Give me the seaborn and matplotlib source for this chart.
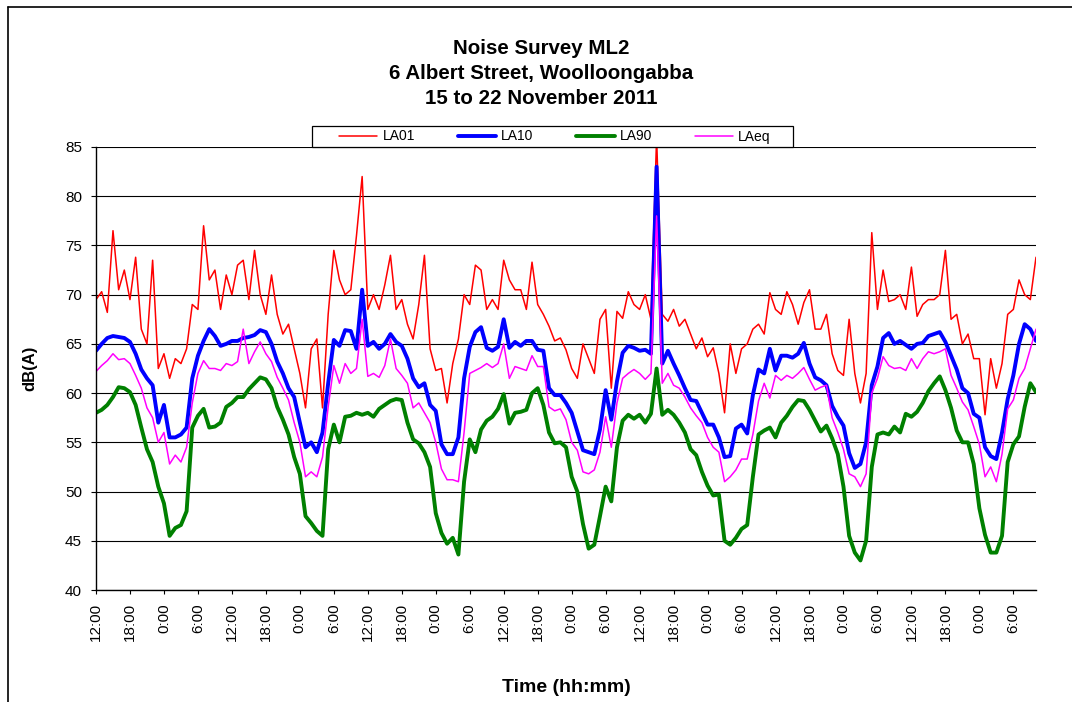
import pandas as pd
import matplotlib
matplotlib.use("Agg")
import matplotlib.pyplot as plt
import seaborn as sns
from matplotlib.lines import Line2D
from matplotlib.patches import Rectangle

# hourly readings, 12:00 15 Nov 2011 onwards
start = "2011-11-15 12:00"

la01 = [69.5, 70.3, 68.2, 76.5, 70.5, 72.5, 69.5, 73.8, 66.5, 65.0, 73.5, 62.5, 64.0, 61.5,
        63.5, 63.0, 64.5, 69.0, 68.5, 77.0, 71.5, 72.5, 68.5, 72.0, 70.0, 73.0, 73.5, 69.5,
        74.5, 70.0, 68.0, 72.0, 68.0, 66.0, 67.0, 64.5, 62.0, 58.5, 64.5, 65.5, 58.5, 68.0,
        74.5, 71.5, 70.0, 70.5, 76.0, 82.0, 68.5, 70.0, 68.5, 71.0, 74.0, 68.5, 69.5, 67.0, 65.5,
        69.0, 74.0, 64.5, 62.3, 62.5, 59.0, 63.0, 65.5, 70.0, 69.0, 73.0, 72.5, 68.5, 69.5,
        68.5, 73.5, 71.5, 70.5, 70.5, 68.5, 73.3, 69.0, 68.0, 66.8, 65.3, 65.6, 64.4, 62.5,
        61.5, 65.0, 63.5, 62.0, 67.5, 68.5, 60.5, 68.3, 67.6, 70.3, 69.0, 68.5, 70.0, 67.5,
        86.0, 68.0, 67.3, 68.5, 66.8, 67.5, 66.0, 64.5, 65.6, 63.7, 64.6, 62.0, 58.0, 65.0,
        62.0, 64.5, 65.0, 66.5, 67.0, 66.0, 70.2, 68.5, 68.0, 70.3, 69.0, 67.0, 69.2, 70.5,
        66.5, 66.5, 68.0, 64.0, 62.3, 61.8, 67.5, 62.0, 59.0, 62.0, 76.3, 68.5, 72.5, 69.3, 69.5,
        70.0, 68.5, 72.8, 67.8, 69.0, 69.5, 69.5, 70.0, 74.5, 67.5, 68.0, 65.0, 66.0, 63.5,
        63.5, 57.8, 63.5, 60.5, 63.0, 68.0, 68.5, 71.5, 70.0, 69.5, 73.8]

la10 = [64.3, 65.0, 65.6, 65.8, 65.7, 65.6, 65.2, 64.0, 62.4, 61.5, 60.8, 57.0, 58.8, 55.5,
        55.5, 55.8, 56.5, 61.5, 63.8, 65.3, 66.5, 65.8, 64.8, 65.0, 65.3, 65.3, 65.6, 65.7,
        65.9, 66.4, 66.2, 65.0, 63.2, 62.0, 60.5, 59.6, 57.0, 54.5, 55.0, 54.0, 56.0, 61.0,
        65.4, 64.8, 66.4, 66.3, 64.5, 70.5, 64.8, 65.2, 64.5, 65.0, 66.0, 65.2, 64.8, 63.5, 61.5,
        60.6, 61.0, 58.8, 58.2, 54.8, 53.8, 53.8, 55.5, 61.5, 64.7, 66.2, 66.7, 64.6, 64.3,
        64.7, 67.5, 64.6, 65.2, 64.8, 65.3, 65.3, 64.4, 64.3, 60.5, 59.8, 59.8, 59.0, 58.0,
        56.1, 54.2, 54.0, 53.8, 56.3, 60.3, 57.3, 61.2, 64.1, 64.8, 64.6, 64.3, 64.4, 64.0,
        83.0, 63.0, 64.3, 63.0, 61.8, 60.5, 59.3, 59.2, 58.0, 56.8, 56.8, 55.5, 53.5, 53.6,
        56.4, 56.8, 55.9, 59.8, 62.4, 62.0, 64.5, 62.3, 63.8, 63.8, 63.6, 64.0, 65.1, 63.0,
        61.6, 61.3, 60.8, 58.7, 57.6, 56.7, 53.9, 52.4, 52.8, 55.0, 60.8, 62.7, 65.6, 66.1, 65.0,
        65.3, 64.9, 64.5, 65.0, 65.1, 65.8, 66.0, 66.2, 65.2, 63.8, 62.4, 60.5, 60.0, 57.9,
        57.5, 54.5, 53.6, 53.3, 56.0, 59.4, 61.8, 65.0, 67.0, 66.5, 65.3]

la90 = [58.0, 58.3, 58.8, 59.6, 60.6, 60.5, 60.1, 58.8, 56.5, 54.3, 53.0, 50.5, 48.8, 45.5,
        46.3, 46.6, 48.0, 56.5, 57.7, 58.4, 56.5, 56.6, 57.0, 58.6, 59.0, 59.6, 59.6, 60.4,
        61.0, 61.6, 61.4, 60.5, 58.6, 57.3, 55.8, 53.5, 51.8, 47.5, 46.8, 46.0, 45.5, 54.3,
        56.8, 55.0, 57.6, 57.7, 58.0, 57.8, 58.0, 57.6, 58.4, 58.8, 59.2, 59.4, 59.3, 57.0, 55.3,
        54.9, 54.0, 52.5, 47.8, 45.8, 44.7, 45.3, 43.6, 51.0, 55.3, 54.0, 56.3, 57.2, 57.6,
        58.4, 59.9, 56.9, 58.0, 58.1, 58.3, 60.0, 60.5, 58.8, 56.0, 54.9, 55.0, 54.5, 51.5,
        50.0, 46.7, 44.2, 44.6, 47.5, 50.5, 49.0, 54.5, 57.2, 57.8, 57.4, 57.8, 57.0, 57.9,
        62.5, 57.8, 58.3, 57.8, 57.0, 56.0, 54.3, 53.7, 52.0, 50.6, 49.6, 49.7, 45.0, 44.6,
        45.3, 46.2, 46.6, 51.5, 55.8, 56.2, 56.5, 55.5, 57.0, 57.7, 58.6, 59.3, 59.2, 58.3,
        57.2, 56.1, 56.7, 55.4, 53.8, 50.5, 45.5, 43.8, 43.0, 45.0, 52.5, 55.8, 56.0, 55.8, 56.6,
        56.0, 57.9, 57.6, 58.1, 59.0, 60.2, 61.0, 61.7, 60.3, 58.5, 56.2, 55.0, 55.0, 52.8,
        48.3, 45.6, 43.8, 43.8, 45.5, 53.0, 54.8, 55.6, 58.6, 61.0, 60.1]

laeq = [62.2, 62.8, 63.3, 64.0, 63.4, 63.5, 63.0, 61.8, 60.5, 58.5, 57.5, 55.0, 56.0, 52.8,
        53.7, 53.0, 54.5, 59.0, 62.0, 63.3, 62.5, 62.5, 62.3, 63.0, 62.8, 63.2, 66.5, 63.0,
        64.2, 65.2, 64.0, 63.2, 61.6, 60.5, 59.3, 57.0, 55.0, 51.5, 52.0, 51.5, 53.5, 58.6,
        62.8, 61.0, 63.0, 62.0, 62.5, 67.5, 61.7, 62.0, 61.6, 62.8, 65.5, 62.5, 61.8, 61.0, 58.5,
        59.0, 58.0, 57.0, 55.0, 52.3, 51.2, 51.2, 51.0, 56.0, 62.0, 62.3, 62.6, 63.0, 62.6,
        63.0, 65.0, 61.5, 62.7, 62.5, 62.3, 63.8, 62.7, 62.7, 58.6, 58.2, 58.4, 57.3, 55.0,
        54.2, 52.0, 51.8, 52.2, 54.0, 57.6, 54.5, 59.0, 61.5, 62.0, 62.4, 62.0, 61.4, 62.0,
        78.0, 61.0, 62.0, 60.8, 60.5, 59.6, 58.5, 57.7, 57.0, 55.5, 54.5, 54.0, 51.0, 51.5,
        52.2, 53.3, 53.3, 55.8, 59.2, 61.0, 59.5, 61.8, 61.3, 61.8, 61.5, 62.0, 62.6, 61.4,
        60.3, 60.6, 60.8, 57.5, 56.0, 54.3, 51.8, 51.5, 50.5, 51.8, 60.0, 61.5, 63.7, 62.8, 62.5,
        62.6, 62.3, 63.5, 62.5, 63.5, 64.2, 64.0, 64.2, 64.5, 61.8, 60.5, 59.1, 58.3, 56.6,
        54.8, 51.5, 52.5, 51.0, 53.8, 58.4, 59.3, 61.5, 62.5, 64.5, 66.5]

series_names = ["LA01", "LA10", "LA90", "LAeq"]
colours = ["#FF0000", "#0000FF", "#008000", "#FF00FF"]
widths = [1.1, 2.8, 2.8, 1.1]
tick_labels = ["12:00", "18:00", "0:00", "6:00"] * 7

times = pd.date_range(start, periods=len(la01), freq="h")
df = pd.DataFrame({"time": times, "LA01": la01, "LA10": la10, "LA90": la90, "LAeq": laeq})
long = df.melt(id_vars="time", var_name="series", value_name="dB")

sns.set_style("white")
plt.rcParams["font.family"] = ["Liberation Sans", "DejaVu Sans"]
plt.rcParams.update({"text.color": "black", "axes.labelcolor": "black",
                     "xtick.color": "black", "ytick.color": "black"})

W, H = 1072, 702
fig = plt.figure(figsize=(W / 100, H / 100), dpi=100)
ax = fig.add_axes([96 / W, 1 - 590 / H, 940 / W, 443 / H])

handles = []
for name, c, w in zip(series_names, colours, widths):
    sns.lineplot(data=long[long["series"] == name], x="time", y="dB",
                 color=c, linewidth=w, ax=ax, legend=False)
    handles.append(Line2D([], [], color=c, linewidth=w, label=name))

ax.set_ylim(40, 85)
ax.set_yticks(range(40, 86, 5))
ax.set_xlim(times[0], times[-1])
ax.set_xticks(pd.date_range(start, periods=len(tick_labels), freq="6h"))
ax.set_xticklabels(tick_labels, rotation=90)

ax.yaxis.grid(True, color="black", linewidth=0.8)
ax.xaxis.grid(False)
ax.set_axisbelow(True)
for side in ["top", "right"]:
    ax.spines[side].set_visible(False)
for side in ["left", "bottom"]:
    ax.spines[side].set_color("black")
    ax.spines[side].set_linewidth(1.0)

ax.tick_params(axis="y", direction="out", length=3.6, width=0.8, pad=6.5,
               labelsize=11, left=True, colors="black")
ax.tick_params(axis="x", direction="out", length=2.9, width=0.8, pad=6.5,
               labelsize=11, bottom=True, colors="black")

ax.set_ylabel("dB(A)", fontsize=12, fontweight="bold")
ax.yaxis.label.set_verticalalignment("center")
ax.yaxis.set_label_coords(-0.070, 0.5)
ax.set_xlabel("Time (hh:mm)", fontsize=14, fontweight="bold")
ax.xaxis.label.set_verticalalignment("center")
ax.xaxis.set_label_coords(0.5, -(688 - 590) / 443)

fig.text(541 / W, 1 - 73.5 / H, "Noise Survey ML2\n6 Albert Street, Woolloongabba\n15 to 22 November 2011",
         ha="center", va="center", multialignment="center", fontsize=14.8,
         fontweight="bold", linespacing=1.42)

# legend strip above the plot
fig.add_artist(Rectangle((312 / W, 1 - 147 / H), 481 / W, 21 / H, transform=fig.transFigure,
                         facecolor="white", edgecolor="black", linewidth=0.9, zorder=5))
leg = fig.legend(handles=handles, loc="center", bbox_to_anchor=(555 / W, 1 - 136.5 / H),
                 ncol=4, frameon=False, fontsize=10, handlelength=2.75, handletextpad=0.36,
                 columnspacing=3.1, borderpad=0)
leg.set_zorder(6)

# chart area border
fig.add_artist(Line2D([8 / W, 8 / W], [0, 1 - 7 / H], color="black", linewidth=1.2))
fig.add_artist(Line2D([8 / W, 1], [1 - 7 / H, 1 - 7 / H], color="black", linewidth=1.2))

fig.savefig("out.png", dpi=100, facecolor="white")
